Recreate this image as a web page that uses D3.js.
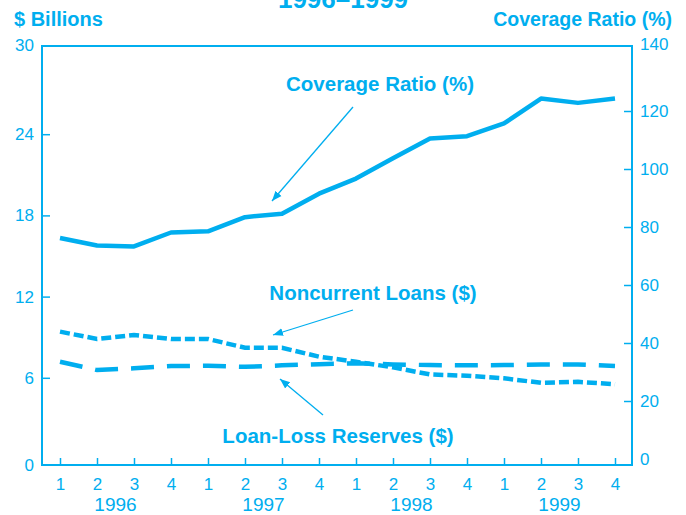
<!DOCTYPE html>
<html>
<head>
<meta charset="utf-8">
<script src="https://cdn.jsdelivr.net/npm/d3@7"></script>
<style>
  body { margin: 0; background: #fff; }
  text { font-family: "Liberation Sans", Arial, sans-serif; fill: #00aeef; }
</style>
</head>
<body>
<svg width="686" height="515"></svg>
<script>
const width = 686;
const height = 515;
const color = "#00aeef";

const years = ["1996", "1997", "1998", "1999"];
const quarters = ["1", "2", "3", "4"];
const dollarTicks = [0, 6, 12, 18, 24, 30];
const ratioTicks = [0, 20, 40, 60, 80, 100, 120, 140];

// $ billions
const noncurrentLoans = [9.41, 8.87, 9.16, 8.87, 8.87, 8.22, 8.22, 7.56, 7.19, 6.77, 6.25, 6.15, 5.96, 5.63, 5.70, 5.53];
const lossReserves = [7.19, 6.57, 6.70, 6.87, 6.89, 6.81, 6.92, 7.01, 7.07, 6.99, 6.94, 6.92, 6.94, 6.99, 6.99, 6.87];
// percent
const coverageRatio = [76.2, 73.6, 73.3, 78.1, 78.5, 83.4, 84.6, 91.5, 96.7, 103.7, 110.5, 111.3, 115.7, 124.3, 122.8, 124.3];

const periods = years.flatMap(y => quarters.map(q => y + "-" + q));

const frame = { left: 42, right: 632, top: 46, bottom: 465 };

const xScale = d3.scalePoint()
  .domain(periods)
  .range([60, 615]);

const yLeft = d3.scaleLinear()
  .domain([0, 30])
  .range([459, 53]);

const yRight = d3.scaleLinear()
  .domain([0, 140])
  .range([459, 53]);

const svg = d3.select("svg");

// arrowhead
svg.append("defs")
  .append("marker")
    .attr("id", "arrow")
    .attr("viewBox", "0 0 10 10")
    .attr("refX", 10)
    .attr("refY", 5)
    .attr("markerWidth", 10)
    .attr("markerHeight", 10)
    .attr("markerUnits", "userSpaceOnUse")
    .attr("orient", "auto")
  .append("path")
    .attr("d", "M0,1 L10,5 L0,9 Z")
    .attr("fill", color);

// axes
const leftAxis = d3.axisLeft(yLeft)
  .tickValues(dollarTicks)
  .tickSize(-8)
  .tickPadding(8)
  .tickSizeOuter(0);

const rightAxis = d3.axisRight(yRight)
  .tickValues(ratioTicks)
  .tickSize(-8)
  .tickPadding(8)
  .tickSizeOuter(0);

const xAxis = d3.axisBottom(xScale)
  .tickSize(-7)
  .tickPadding(13)
  .tickSizeOuter(0)
  .tickFormat(d => d.split("-")[1]);

function styleAxis(g) {
  g.select(".domain").remove();
  g.selectAll("line").attr("stroke", color).attr("stroke-width", 1.5);
  g.selectAll("text")
    .attr("fill", color)
    .style("font-size", "17px")
    .style("font-family", "'Liberation Sans', Arial, sans-serif");
}

const gLeft = svg.append("g")
    .attr("transform", `translate(${frame.left}, 0)`)
    .call(leftAxis)
    .call(styleAxis);

const gRight = svg.append("g")
    .attr("transform", `translate(${frame.right}, 0)`)
    .call(rightAxis)
    .call(styleAxis);

svg.append("g")
    .attr("transform", `translate(0, ${frame.bottom})`)
    .call(xAxis)
    .call(styleAxis);

// end ticks sit on the frame
gLeft.selectAll(".tick").filter(d => d === 0 || d === 30).select("line").remove();
gRight.selectAll(".tick").filter(d => d === 0 || d === 140).select("line").remove();
gLeft.selectAll(".tick").filter(d => d === 30).attr("transform", `translate(0, ${frame.top})`);
gLeft.selectAll(".tick").filter(d => d === 0).attr("transform", `translate(0, ${frame.bottom + 1})`);
gRight.selectAll(".tick").filter(d => d === 140).attr("transform", `translate(0, ${frame.top - 1})`);

// frame
svg.append("rect")
    .attr("x", frame.left)
    .attr("y", frame.top)
    .attr("width", frame.right - frame.left)
    .attr("height", frame.bottom - frame.top)
    .attr("fill", "none")
    .attr("stroke", color)
    .attr("stroke-width", 2);

// year labels
svg.selectAll(".year")
  .data(years)
  .enter()
  .append("text")
    .attr("class", "year")
    .attr("x", y => (xScale(y + "-1") + xScale(y + "-4")) / 2)
    .attr("y", 511)
    .attr("text-anchor", "middle")
    .style("font-size", "19px")
    .text(y => y);

// lines
const lineLeft = d3.line()
  .x((d, i) => xScale(periods[i]))
  .y(d => yLeft(d));

const lineRight = d3.line()
  .x((d, i) => xScale(periods[i]))
  .y(d => yRight(d));

svg.append("path")
    .attr("d", lineRight(coverageRatio))
    .attr("fill", "none")
    .attr("stroke", color)
    .attr("stroke-width", 4.5)
    .attr("stroke-linejoin", "round");

svg.append("path")
    .attr("d", lineLeft(noncurrentLoans))
    .attr("fill", "none")
    .attr("stroke", color)
    .attr("stroke-width", 4.5)
    .attr("stroke-dasharray", "10 4");

svg.append("path")
    .attr("d", lineLeft(lossReserves))
    .attr("fill", "none")
    .attr("stroke", color)
    .attr("stroke-width", 4.5)
    .attr("stroke-dasharray", "23 13");

// titles (top title is clipped by the page edge, as in the source)
svg.append("text")
    .attr("x", 343)
    .attr("y", 8)
    .attr("text-anchor", "middle")
    .style("font-size", "26px")
    .style("font-weight", "bold")
    .text("1996–1999");

svg.append("text")
    .attr("x", 14)
    .attr("y", 26)
    .style("font-size", "20px")
    .style("font-weight", "bold")
    .text("$ Billions");

svg.append("text")
    .attr("x", 672)
    .attr("y", 26)
    .attr("text-anchor", "end")
    .style("font-size", "19.5px")
    .style("font-weight", "bold")
    .text("Coverage Ratio (%)");

// annotations
const notes = [
  { label: "Coverage Ratio (%)", x: 380, y: 91, from: [353, 107], to: [272, 201] },
  { label: "Noncurrent Loans ($)", x: 373, y: 300, from: [353, 310], to: [273, 335] },
  { label: "Loan-Loss Reserves ($)", x: 338, y: 443, from: [323, 415], to: [280, 379] }
];

svg.selectAll(".note")
  .data(notes)
  .enter()
  .append("text")
    .attr("class", "note")
    .attr("x", d => d.x)
    .attr("y", d => d.y)
    .attr("text-anchor", "middle")
    .style("font-size", "20.5px")
    .style("font-weight", "bold")
    .text(d => d.label);

svg.selectAll(".pointer")
  .data(notes)
  .enter()
  .append("line")
    .attr("class", "pointer")
    .attr("x1", d => d.from[0])
    .attr("y1", d => d.from[1])
    .attr("x2", d => d.to[0])
    .attr("y2", d => d.to[1])
    .attr("stroke", color)
    .attr("stroke-width", 1.3)
    .attr("marker-end", "url(#arrow)");
</script>
</body>
</html>
